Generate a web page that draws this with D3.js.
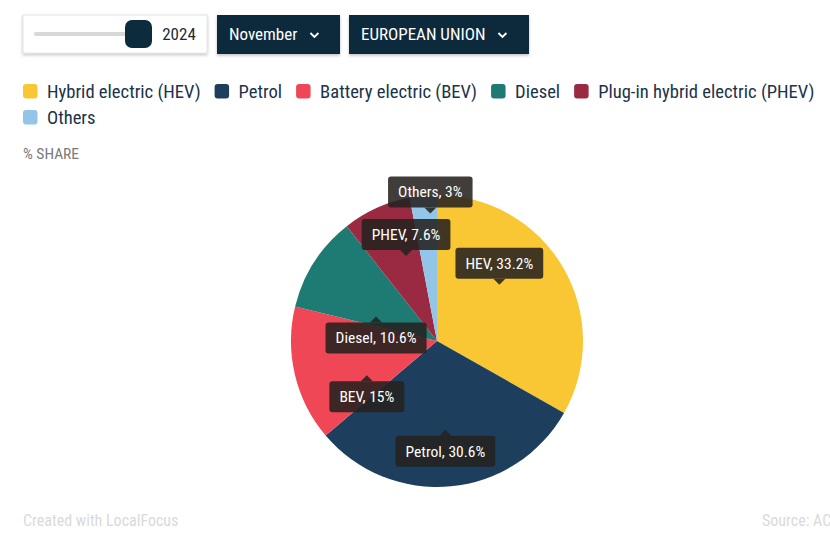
<!DOCTYPE html>
<html><head><meta charset="utf-8">
<script src="https://cdn.jsdelivr.net/npm/d3@7"></script>
<style>
html,body{margin:0;padding:0;background:#fff;}
svg{display:block;}
text{font-family:"Roboto Condensed","Liberation Sans Narrow","DejaVu Sans Condensed",Roboto,sans-serif;}
</style></head>
<body>
<svg id="chart" width="830" height="534"></svg>
<script>
// ---- data ----
const categories = ["Hybrid electric (HEV)", "Petrol", "Battery electric (BEV)", "Diesel", "Plug-in hybrid electric (PHEV)", "Others"];
const shortNames = ["HEV", "Petrol", "BEV", "Diesel", "PHEV", "Others"];
const shares = [33.2, 30.6, 15, 10.6, 7.6, 3];
const colors = ["#f8c733", "#1d3f5d", "#ef4756", "#1e7b74", "#9a2a41", "#93c5e8"];
const yearLabel = "2024";
const monthLabel = "November";
const regionLabel = "EUROPEAN UNION";

// label layout (angle nudge in degrees from slice mid-angle, radius fraction, box side)
const labelLayout = [
  {nudge: -11.8, rf: 0.575, side: "above"},
  {nudge: 0, rf: 0.61, side: "below"},
  {nudge: -12.7, rf: 0.535, side: "below"},
  {nudge: -10.8, rf: 0.45, side: "below"},
  {nudge: 4.5, rf: 0.62, side: "above"},
  {nudge: 2.4, rf: 0.875, side: "above"}
];

const svg = d3.select("#chart");

// ---- controls ----
const defs = svg.append("defs");
const f = defs.append("filter").attr("id","sh").attr("x","-10%").attr("y","-20%").attr("width","120%").attr("height","150%");
f.append("feDropShadow").attr("dx",0).attr("dy",1.5).attr("stdDeviation",1.5).attr("flood-color","#000").attr("flood-opacity",0.25);

const ctrl = svg.append("g");
ctrl.append("rect").attr("x",23).attr("y",15).attr("width",184).attr("height",38).attr("fill","#fff").attr("stroke","#e4e4e4").attr("filter","url(#sh)");
ctrl.append("rect").attr("x",34).attr("y",32).attr("width",100).attr("height",4).attr("rx",2).attr("fill","#d8d8d8");
ctrl.append("rect").attr("x",125).attr("y",20).attr("width",27).attr("height",28).attr("rx",7).attr("fill","#0c2b3d");
ctrl.append("text").attr("x",179).attr("y",40).attr("text-anchor","middle").attr("font-size",17).attr("fill","#1c2b38").text(yearLabel);

function dropdown(x, w, label){
  const g = ctrl.append("g");
  g.append("rect").attr("x",x).attr("y",15).attr("width",w).attr("height",39).attr("fill","#0b2a3c").attr("filter","url(#sh)");
  const t = g.append("text").attr("x",x+12).attr("y",40).attr("font-size",17).attr("fill","#fff").text(label);
  const tw = t.node().getComputedTextLength();
  const cx = x + 12 + tw + 17;
  g.append("path").attr("d",`M${cx-4},${33} L${cx},${37} L${cx+4},${33}`).attr("fill","none").attr("stroke","#fff").attr("stroke-width",1.8);
}
dropdown(217, 123, monthLabel);
dropdown(349, 180, regionLabel);

// ---- legend ----
const legend = svg.append("g");
let lx = 23, ly = 91;
const maxX = 828;
categories.forEach((c,i)=>{
  const g = legend.append("g");
  const t = g.append("text").attr("font-size",18.6).attr("fill","#1b3349").text(c);
  const tw = t.node().getComputedTextLength();
  if (lx + 24 + tw > maxX) { lx = 23; ly += 26; }
  g.append("rect").attr("x",lx).attr("y",ly-7).attr("width",14.5).attr("height",14.5).attr("rx",3).attr("fill",colors[i]);
  t.attr("x",lx+24).attr("y",ly+6.5);
  lx += 24 + tw + 14;
});

svg.append("text").attr("x",23).attr("y",159).attr("font-size",15.5).attr("fill","#7a7a7a").text("% SHARE");

// ---- pie ----
const cx = 437, cy = 341, R = 146;
const pie = d3.pie().sort(null).value(d=>d.v);
const data = shares.map((v,i)=>({v, i}));
const arcs = pie(data);
const arc = d3.arc().innerRadius(0).outerRadius(R);
const pg = svg.append("g").attr("transform",`translate(${cx},${cy})`);
pg.selectAll("path").data(arcs).join("path").attr("d",arc).attr("fill",d=>colors[d.data.i]);

// ---- labels ----
const lg = pg.append("g");
arcs.forEach((a,i)=>{
  const L = labelLayout[i];
  const ang = (a.startAngle + a.endAngle)/2 + L.nudge*Math.PI/180;
  const r = R*L.rf;
  const tx = r*Math.sin(ang), ty = -r*Math.cos(ang);
  const g = lg.append("g");
  const txt = g.append("text").attr("font-size",15.5).attr("fill","#fff").attr("text-anchor","middle")
    .text(`${shortNames[i]}, ${d3.format("~g")(shares[i])}%`);
  const tw = txt.node().getComputedTextLength();
  const bw = tw + 20, bh = 31, pt = 6;
  const by = L.side === "above" ? ty - pt - bh : ty + pt;
  const bx = tx - bw/2;
  const fill = "rgba(38,34,31,0.88)";
  g.insert("rect","text").attr("x",bx).attr("y",by).attr("width",bw).attr("height",bh).attr("rx",3).attr("fill",fill);
  const tri = L.side === "above"
    ? `M${tx-6},${by+bh} L${tx},${by+bh+pt} L${tx+6},${by+bh} Z`
    : `M${tx-6},${by} L${tx},${by-pt} L${tx+6},${by} Z`;
  g.insert("path","text").attr("d",tri).attr("fill",fill);
  txt.attr("x",tx).attr("y",by+bh/2+5.5);
});

// ---- footer ----
svg.append("text").attr("x",23).attr("y",526).attr("font-size",16).attr("fill","#dadada").text("Created with LocalFocus");
svg.append("text").attr("x",762).attr("y",526).attr("font-size",16).attr("fill","#dadada").text("Source: ACEA");
</script>
</body></html>
